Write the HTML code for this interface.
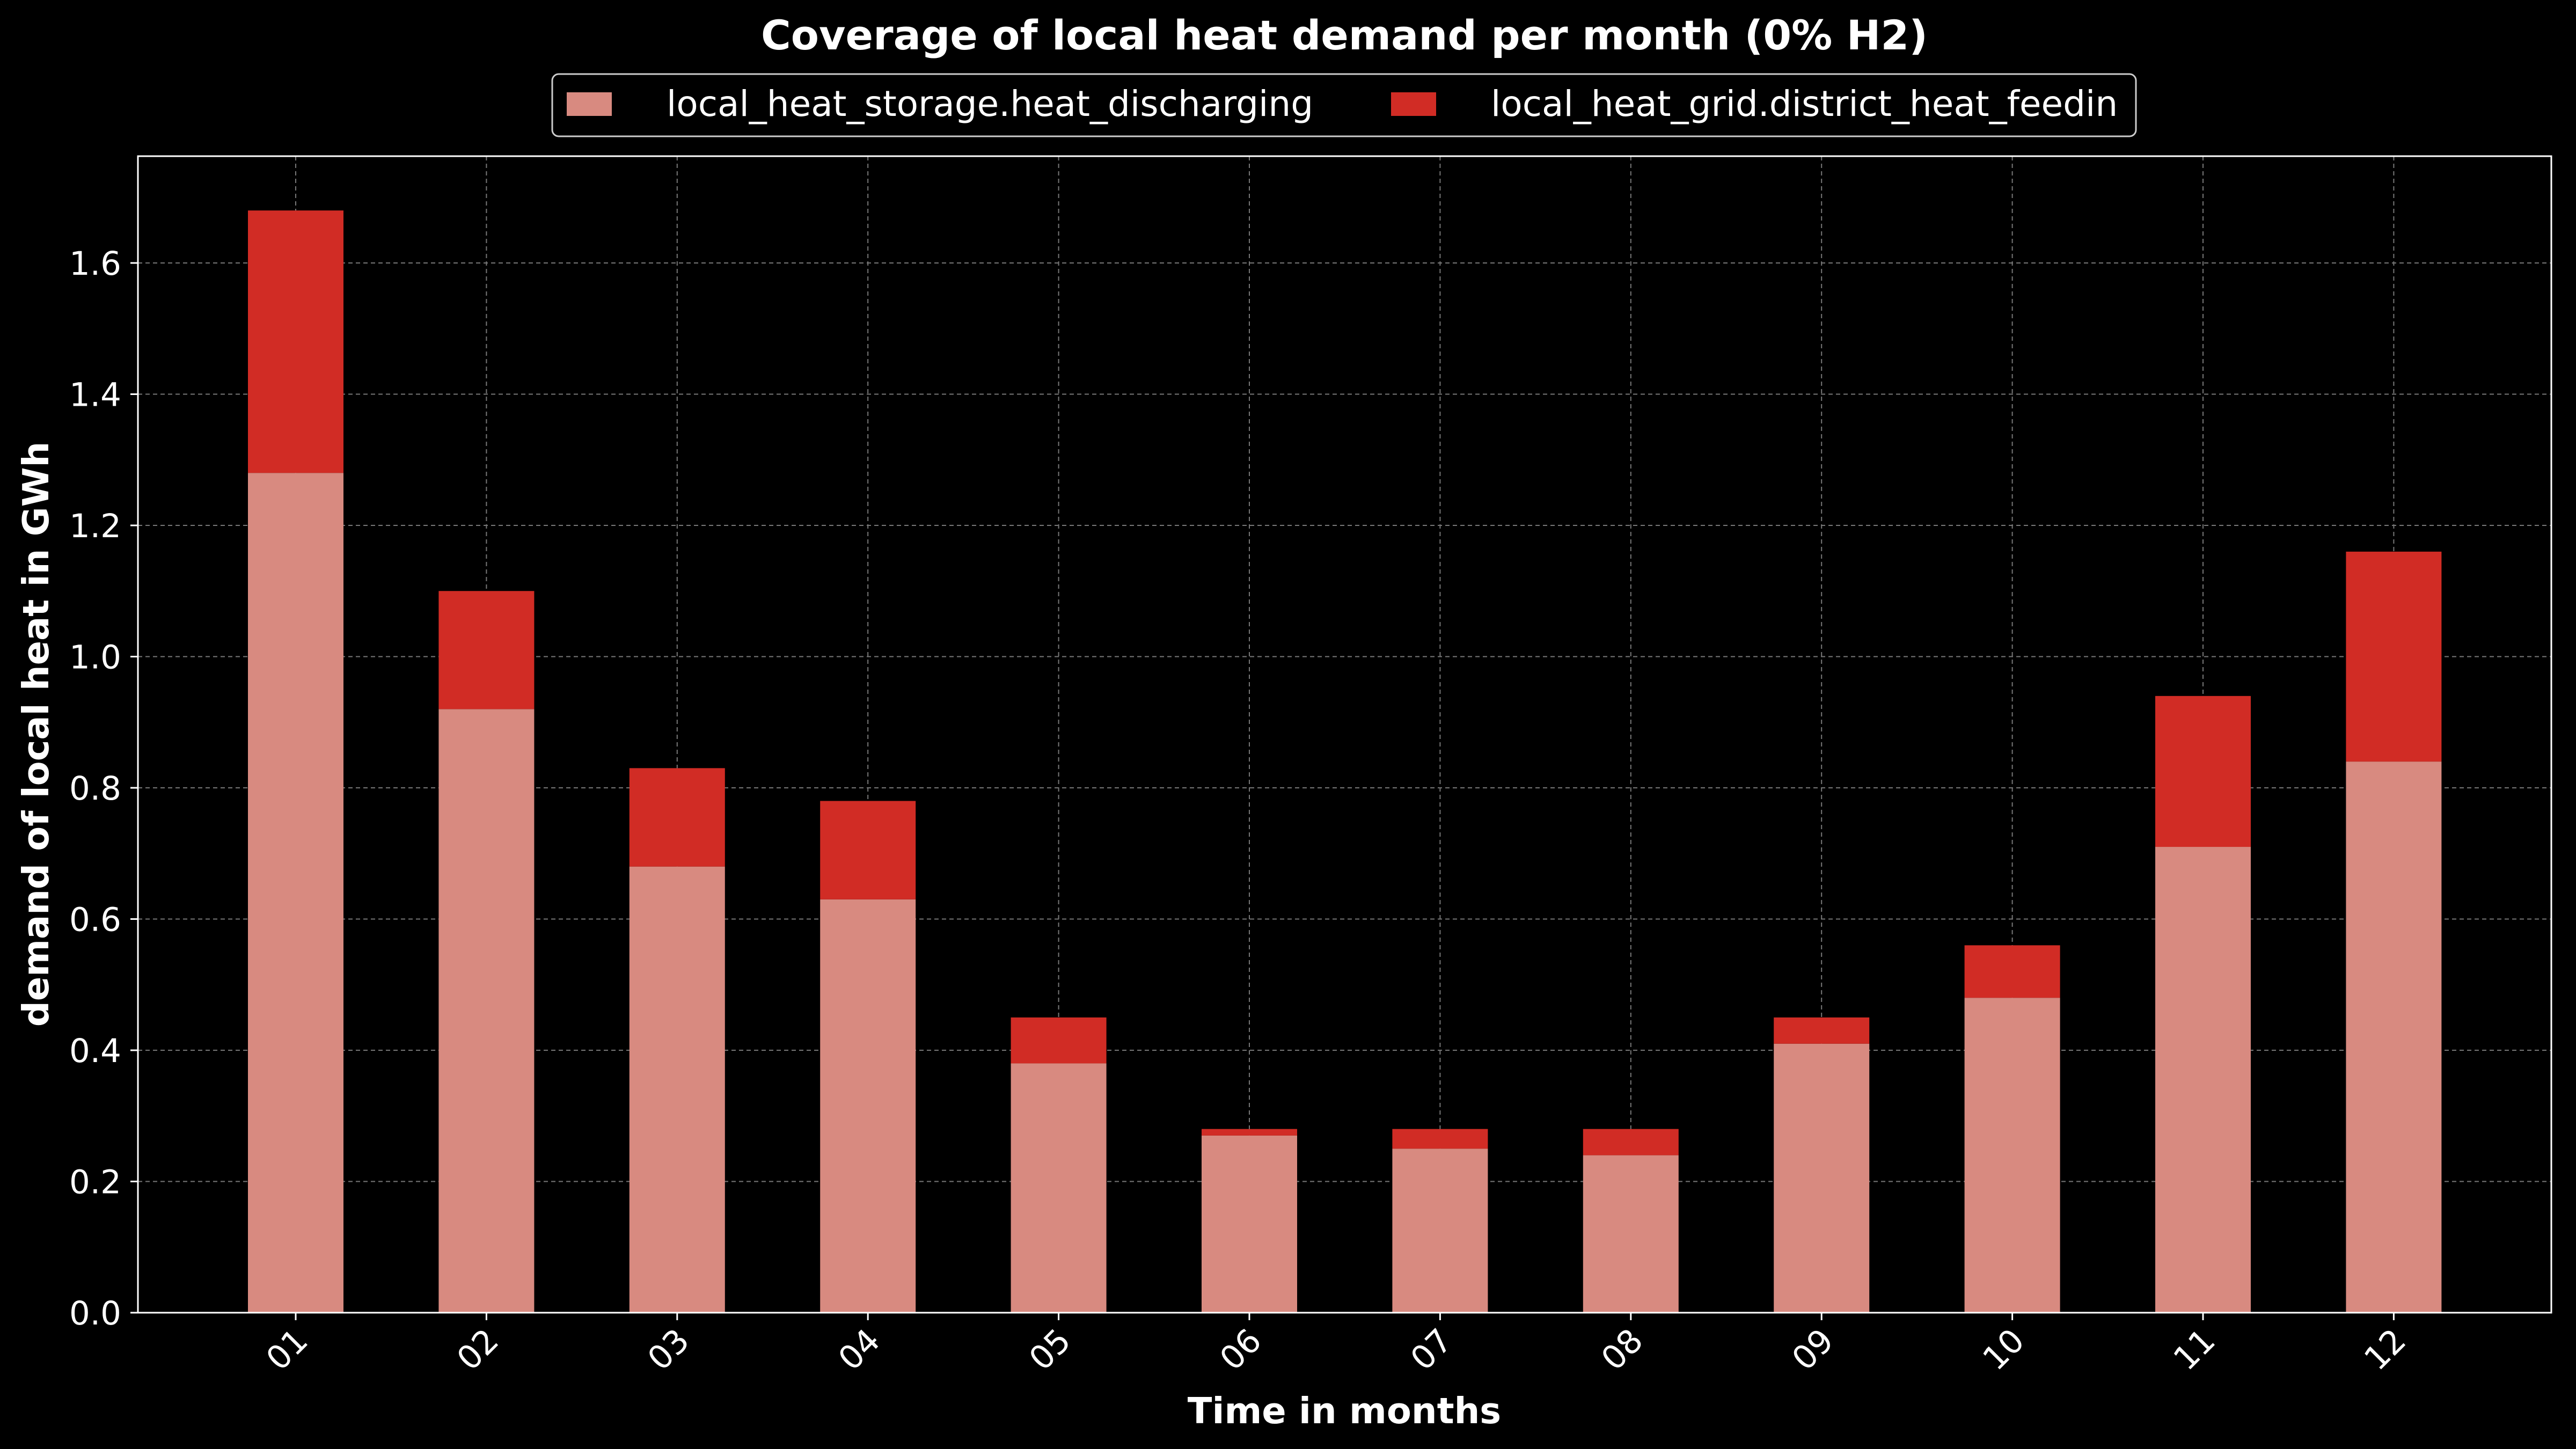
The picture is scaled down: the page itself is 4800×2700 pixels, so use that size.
<!DOCTYPE html>
<html><head><meta charset="utf-8"><style>
html,body{margin:0;padding:0;background:#000;}
svg{display:block;font-family:"DejaVu Sans","Liberation Sans",sans-serif;}
</style></head><body>
<svg id="chart" width="4800" height="2700" viewBox="0 0 4800 2700" xmlns="http://www.w3.org/2000/svg">
<rect width="4800" height="2700" fill="#000"/>
<text x="2505" y="92" fill="#fff" font-size="76" font-weight="bold" text-anchor="middle">Coverage of local heat demand per month (0% H2)</text>
<g id="grid"></g>
<g id="bars"></g>
<rect x="257" y="291" width="4497" height="2155" fill="none" stroke="#fff" stroke-width="3"/>
<g id="ticks"></g>
<text x="2505" y="2652" fill="#fff" font-size="67" font-weight="bold" text-anchor="middle">Time in months</text>
<text transform="translate(90,1368) rotate(-90)" fill="#fff" font-size="67" font-weight="bold" text-anchor="middle">demand of local heat in GWh</text>
<g>
<rect x="1029" y="138" width="2951" height="116" rx="12" fill="#000" stroke="#ccc" stroke-width="3"/>
<rect x="1056" y="172" width="84" height="44" fill="#d88a80"/>
<text x="1242" y="216" fill="#fff" font-size="66">local_heat_storage.heat_discharging</text>
<rect x="2592" y="172" width="84" height="44" fill="#d12c25"/>
<text x="2778" y="216" fill="#fff" font-size="66">local_heat_grid.district_heat_feedin</text>
</g>
</svg>
<script>
const months = ["01","02","03","04","05","06","07","08","09","10","11","12"];
const storage = [1.28,0.92,0.68,0.63,0.38,0.27,0.25,0.24,0.41,0.48,0.71,0.84];
const feedin = [0.40,0.18,0.15,0.15,0.07,0.01,0.03,0.04,0.04,0.08,0.23,0.32];
const yTicks = [0,0.2,0.4,0.6,0.8,1.0,1.2,1.4,1.6];
const yTickLabels = ["0.0","0.2","0.4","0.6","0.8","1.0","1.2","1.4","1.6"];
const NS="http://www.w3.org/2000/svg";
const X0=551, DX=355.4, BW=178;
const yScale=v=>2446-v*(2446-490)/1.6;
const xScale=i=>X0+i*DX;
function mk(tag,attrs,parent){const e=document.createElementNS(NS,tag);for(const k in attrs)e.setAttribute(k,attrs[k]);parent.appendChild(e);return e;}
const grid=document.getElementById('grid'),bars=document.getElementById('bars'),ticks=document.getElementById('ticks');
yTicks.forEach((v,i)=>{
  const y=yScale(v);
  const g=mk('line',{x1:257,x2:4754,y1:y,y2:y,stroke:'#777','stroke-width':2,'stroke-dasharray':'8,6'},grid);
  
  
  const t=mk('line',{x1:243,x2:257,y1:y,y2:y,stroke:'#fff','stroke-width':3},ticks);
  
  
  const l=mk('text',{x:226,y:y+22,fill:'#fff','font-size':61,'text-anchor':'end'},ticks);
  l.textContent=yTickLabels[i];
  
  
});
months.forEach((m,i)=>{
  const x=xScale(i);
  const g=mk('line',{x1:x,x2:x,y1:291,y2:2446,stroke:'#777','stroke-width':2,'stroke-dasharray':'8,6'},grid);
  
  
  const ys=yScale(storage[i]), yt=yScale(storage[i]+feedin[i]);
  const b1=mk('rect',{x:x-BW/2,y:ys,width:BW,height:2446-ys,fill:'#d88a80'},bars);
  
  
  const b2=mk('rect',{x:x-BW/2,y:yt,width:BW,height:ys-yt,fill:'#d12c25'},bars);
  
  
  const t=mk('line',{x1:x,x2:x,y1:2446,y2:2460,stroke:'#fff','stroke-width':3},ticks);
  
  
  const l=mk('text',{transform:`translate(${x+26},${2502}) rotate(-45)`,fill:'#fff','font-size':61,'text-anchor':'end'},ticks);
  l.textContent=m;
  
  
});
</script>
</body></html>
